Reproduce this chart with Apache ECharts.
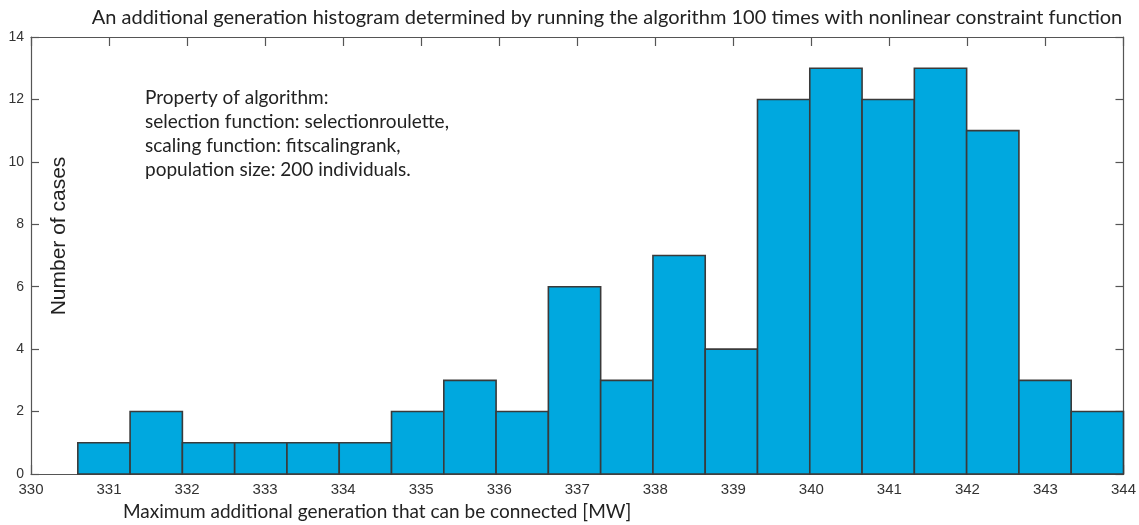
<!DOCTYPE html>
<html>
<head>
<meta charset="utf-8">
<script src="https://cdn.jsdelivr.net/npm/echarts@6/dist/echarts.min.js"></script>
<style>
  html, body { margin: 0; padding: 0; background: #fff; }
  #chart { width: 1139px; height: 525px; }
</style>
</head>
<body>
<div id="chart"></div>
<script>
// Histogram bin edges [MW] and number of runs falling in each bin
const binEdges = [330.6, 331.27, 331.94, 332.61, 333.28, 333.95, 334.62, 335.29, 335.96, 336.63,
                  337.3, 337.97, 338.64, 339.31, 339.98, 340.65, 341.32, 341.99, 342.66, 343.33, 344.0];
const counts = [1, 2, 1, 1, 1, 1, 2, 3, 2, 6, 3, 7, 4, 12, 13, 12, 13, 11, 3, 2];

const xTicks = [330, 331, 332, 333, 334, 335, 336, 337, 338, 339, 340, 341, 342, 343, 344];
const yTicks = [0, 2, 4, 6, 8, 10, 12, 14];

const titleText = 'An additional generation histogram determined by running the algorithm 100 times with nonlinear constraint function';
const xLabel = 'Maximum additional generation that can be connected [MW]';
const yLabel = 'Number of cases';
const noteLines = [
  'Property of algorithm:',
  'selection function: selectionroulette,',
  'scaling function: fitscalingrank,',
  'population size: 200 individuals.'
];

const bins = counts.map((c, i) => [binEdges[i], binEdges[i + 1], c]);

const axisColor = '#555';
const sansCal = 'Lato, "Open Sans", sans-serif';
const sansArial = '"Liberation Sans", Arial, sans-serif';
const sansNarrow = '"Liberation Sans Narrow", "Arial Narrow", "Liberation Sans", sans-serif';

const chart = echarts.init(document.getElementById('chart'), null, { renderer: 'canvas' });

const baseX = {
  type: 'value',
  min: xTicks[0],
  max: xTicks[xTicks.length - 1],
  interval: 1,
  splitLine: { show: false },
  axisLine: { show: true, onZero: false, lineStyle: { color: axisColor, width: 1.2 } },
  axisTick: { show: true, inside: true, length: 9, lineStyle: { color: axisColor, width: 1.2 } }
};
const baseY = {
  type: 'value',
  min: yTicks[0],
  max: yTicks[yTicks.length - 1],
  interval: 2,
  splitLine: { show: false },
  axisLine: { show: true, onZero: false, lineStyle: { color: axisColor, width: 1.2 } },
  axisTick: { show: true, inside: true, length: 8, lineStyle: { color: axisColor, width: 1.2 } }
};

chart.setOption({
  animation: false,
  backgroundColor: '#fff',
  grid: { left: 31, right: 14, top: 37, bottom: 51, containLabel: false },
  xAxis: [
    Object.assign({}, baseX, {
      position: 'bottom',
      axisLabel: { show: true, color: '#333', fontFamily: sansNarrow, fontSize: 15, margin: 8 }
    }),
    Object.assign({}, baseX, { position: 'top', axisLabel: { show: false } })
  ],
  yAxis: [
    Object.assign({}, baseY, {
      position: 'left',
      axisLabel: { show: true, color: '#333', fontFamily: sansNarrow, fontSize: 14, margin: 7 }
    }),
    Object.assign({}, baseY, { position: 'right', axisLabel: { show: false } })
  ],
  series: [{
    type: 'custom',
    xAxisIndex: 0,
    yAxisIndex: 0,
    data: bins,
    renderItem: function (params, api) {
      const p0 = api.coord([api.value(0), api.value(2)]);
      const p1 = api.coord([api.value(1), 0]);
      return {
        type: 'rect',
        shape: { x: p0[0], y: p0[1], width: p1[0] - p0[0], height: p1[1] - p0[1] },
        style: { fill: '#00A8DF', stroke: '#3a3a3a', lineWidth: 1.6 }
      };
    }
  }],
  graphic: [
    {
      type: 'text', x: 607, y: 18,
      style: { text: titleText, fill: '#222', font: '20px ' + sansCal, textAlign: 'center', textVerticalAlign: 'middle' }
    },
    {
      type: 'text', x: 123, y: 512,
      style: { text: xLabel, fill: '#222', font: '19px ' + sansCal, textAlign: 'left', textVerticalAlign: 'middle' }
    },
    {
      type: 'text', x: 59, y: 236, rotation: Math.PI / 2,
      style: { text: yLabel, fill: '#222', font: '21px ' + sansArial, textAlign: 'center', textVerticalAlign: 'middle' }
    },
    {
      type: 'text', x: 145, y: 86,
      style: { text: noteLines.join('\n'), fill: '#222', font: '19px ' + sansCal, lineHeight: 24 }
    }
  ]
});
</script>
</body>
</html>
